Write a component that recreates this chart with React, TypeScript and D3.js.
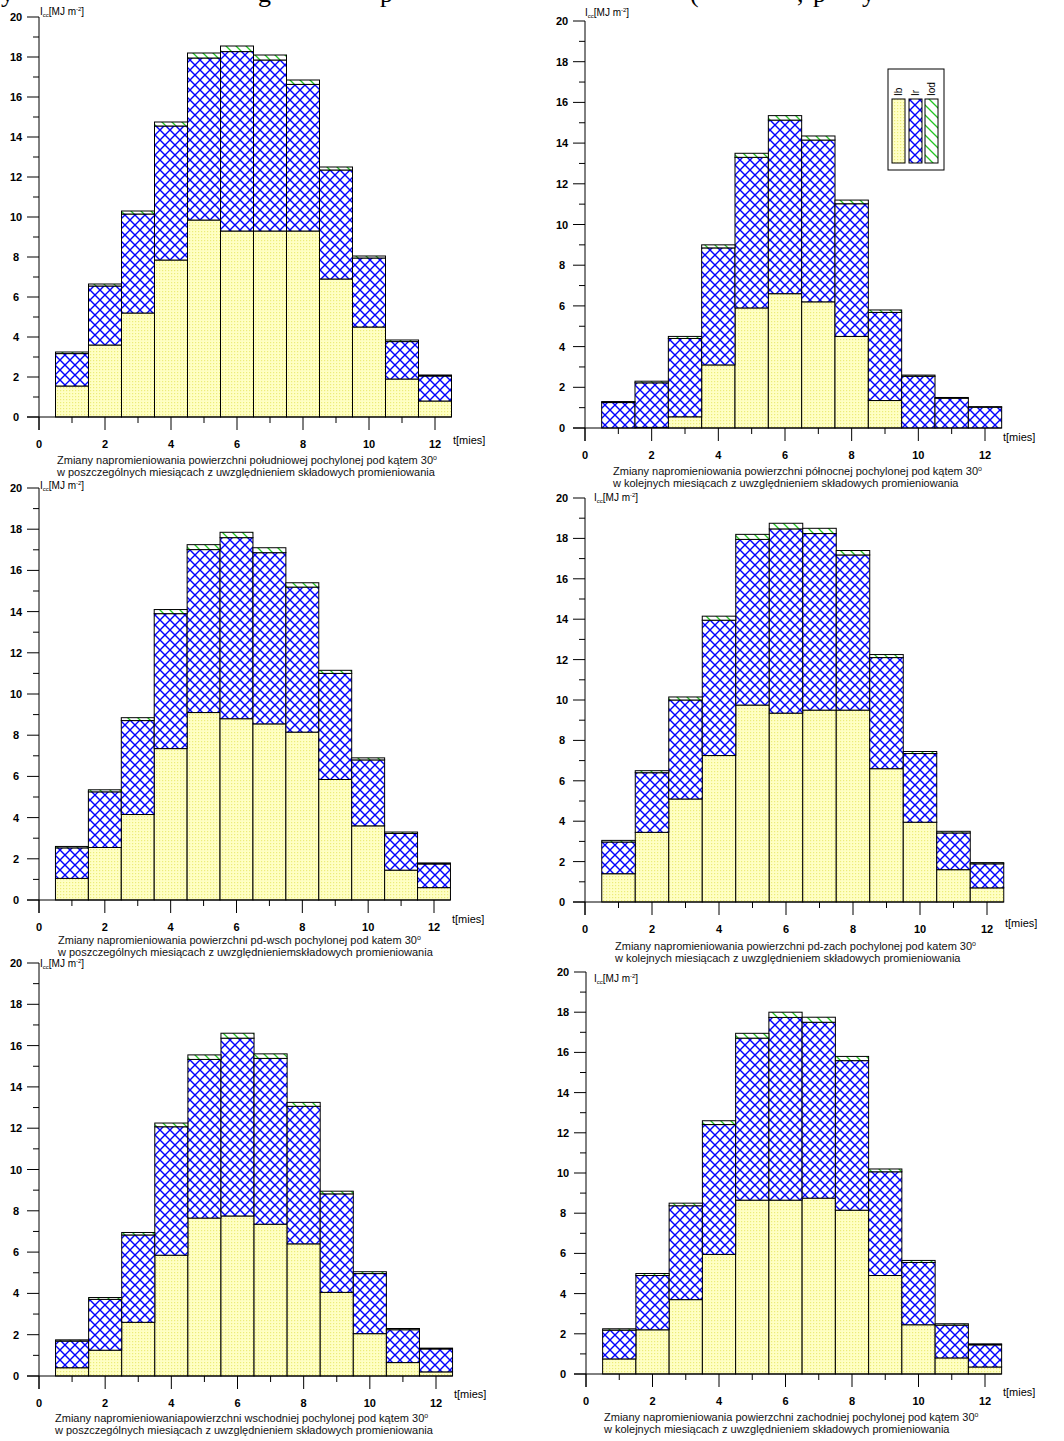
import React from 'react';
import * as d3 from 'd3';

// ---------- data ----------
const months = [1, 2, 3, 4, 5, 6, 7, 8, 9, 10, 11, 12];
const xTickValues = [0, 1, 2, 3, 4, 5, 6, 7, 8, 9, 10, 11, 12];
const yTickValues = d3.range(0, 21);
const seriesKeys = ['ib', 'ir', 'iod'];
const legendLabels = ['Ib', 'Ir', 'Iod'];

// south
const southIb = [1.55, 3.6, 5.2, 7.85, 9.85, 9.3, 9.3, 9.3, 6.9, 4.5, 1.9, 0.8];
const southIr = [1.62, 2.95, 4.95, 6.7, 8.1, 8.97, 8.55, 7.33, 5.45, 3.45, 1.87, 1.25];
const southIod = [0.08, 0.1, 0.15, 0.2, 0.25, 0.28, 0.25, 0.22, 0.15, 0.1, 0.08, 0.05];
// north
const northIb = [0, 0.03, 0.55, 3.1, 5.9, 6.6, 6.2, 4.5, 1.35, 0, 0, 0];
const northIr = [1.25, 2.19, 3.85, 5.75, 7.4, 8.53, 7.95, 6.52, 4.33, 2.54, 1.46, 1.02];
const northIod = [0.05, 0.08, 0.1, 0.15, 0.2, 0.22, 0.2, 0.18, 0.12, 0.06, 0.04, 0.03];
// south-east
const seIb = [1.05, 2.55, 4.15, 7.35, 9.1, 8.8, 8.55, 8.15, 5.85, 3.6, 1.45, 0.6];
const seIr = [1.48, 2.7, 4.56, 6.55, 7.91, 8.79, 8.31, 7.04, 5.15, 3.2, 1.78, 1.15];
const seIod = [0.07, 0.1, 0.14, 0.2, 0.24, 0.26, 0.24, 0.21, 0.15, 0.1, 0.07, 0.05];
// south-west
const swIb = [1.4, 3.45, 5.1, 7.25, 9.75, 9.35, 9.5, 9.5, 6.6, 3.95, 1.6, 0.7];
const swIr = [1.57, 2.95, 4.9, 6.7, 8.2, 9.12, 8.74, 7.68, 5.5, 3.4, 1.82, 1.19];
const swIod = [0.08, 0.1, 0.15, 0.2, 0.25, 0.28, 0.26, 0.22, 0.15, 0.1, 0.08, 0.06];
// east
const eastIb = [0.4, 1.25, 2.6, 5.85, 7.65, 7.75, 7.35, 6.4, 4.05, 2.05, 0.65, 0.2];
const eastIr = [1.29, 2.46, 4.23, 6.22, 7.68, 8.61, 8.03, 6.66, 4.77, 2.91, 1.59, 1.11];
const eastIod = [0.06, 0.09, 0.12, 0.18, 0.22, 0.24, 0.22, 0.19, 0.13, 0.09, 0.06, 0.04];
// west
const westIb = [0.75, 2.2, 3.7, 5.95, 8.65, 8.65, 8.75, 8.15, 4.9, 2.45, 0.8, 0.35];
const westIr = [1.43, 2.7, 4.67, 6.46, 8.06, 9.09, 8.75, 7.44, 5.16, 3.1, 1.63, 1.1];
const westIod = [0.07, 0.1, 0.13, 0.19, 0.24, 0.26, 0.25, 0.21, 0.14, 0.1, 0.07, 0.05];

const captionsSouth = [
  'Zmiany napromieniowania powierzchni południowej pochylonej pod kątem 30',
  'w poszczególnych miesiącach z uwzględnieniem składowych promieniowania',
];
const captionsNorth = [
  'Zmiany napromieniowania powierzchni północnej pochylonej pod kątem 30',
  'w kolejnych miesiącach z uwzględnieniem składowych promieniowania',
];
const captionsSE = [
  'Zmiany napromieniowania powierzchni pd-wsch pochylonej pod katem 30',
  'w poszczególnych miesiącach z uwzględnieniemskładowych promieniowania',
];
const captionsSW = [
  'Zmiany napromieniowania powierzchni pd-zach pochylonej pod katem 30',
  'w kolejnych miesiącach z uwzględnieniem składowych promieniowania',
];
const captionsEast = [
  'Zmiany napromieniowaniapowierzchni wschodniej pochylonej pod kątem 30',
  'w poszczególnych miesiącach z uwzględnieniem składowych promieniowania',
];
const captionsWest = [
  'Zmiany napromieniowania powierzchni zachodniej pochylonej pod kątem 30',
  'w kolejnych miesiącach z uwzględnieniem składowych promieniowania',
];

// cut-off fragments of the page text above the charts
const topFragments = [
  { t: 'y', x: 1 },
  { t: 'g', x: 258 },
  { t: 'p', x: 380 },
  { t: '(', x: 690 },
  { t: ',', x: 797 },
  { t: 'p', x: 813 },
  { t: 'y', x: 862 },
];

// ---------- layout ----------
const W = 1064;
const H = 1441;
const FONT = '"Liberation Sans", Arial, Helvetica, sans-serif';

const panels = [
  { id: 's', ib: southIb, ir: southIr, iod: southIod, cap: captionsSouth,
    x0: 39, x12: 435, y0: 417, y20: 17, capX: 57, capY: 464, tDy: 27, labX: 40, labY: 15, legend: false },
  { id: 'n', ib: northIb, ir: northIr, iod: northIod, cap: captionsNorth,
    x0: 585, x12: 985, y0: 428, y20: 21, capX: 613, capY: 475, tDy: 13, labX: 585, labY: 16, legend: true },
  { id: 'se', ib: seIb, ir: seIr, iod: seIod, cap: captionsSE,
    x0: 39, x12: 434, y0: 900, y20: 488, capX: 58, capY: 944, tDy: 23, labX: 40, labY: 489, legend: false },
  { id: 'sw', ib: swIb, ir: swIr, iod: swIod, cap: captionsSW,
    x0: 585, x12: 987, y0: 902, y20: 498, capX: 615, capY: 950, tDy: 25, labX: 594, labY: 501, legend: false },
  { id: 'e', ib: eastIb, ir: eastIr, iod: eastIod, cap: captionsEast,
    x0: 39, x12: 436, y0: 1376, y20: 963, capX: 55, capY: 1422, tDy: 22, labX: 40, labY: 967, legend: false },
  { id: 'w', ib: westIb, ir: westIr, iod: westIod, cap: captionsWest,
    x0: 586, x12: 985, y0: 1374, y20: 972, capX: 604, capY: 1421, tDy: 22, labX: 594, labY: 982, legend: false },
];

const fills: Record<string, string> = { ib: 'url(#patIb)', ir: 'url(#patIr)', iod: 'url(#patIod)' };

function Panel({ p }: { p: (typeof panels)[number] }) {
  const x = d3.scaleLinear().domain([0, 12]).range([p.x0, p.x12]);
  const y = d3.scaleLinear().domain([0, 20]).range([p.y0, p.y20]);
  const rows = months.map((m, i) => ({ m, ib: p.ib[i], ir: p.ir[i], iod: p.iod[i] }));
  const stack = d3.stack<any>().keys(seriesKeys)(rows);
  const ax = x(0);
  return (
    <g>
      {/* bars */}
      {stack.map((layer) => (
        <g key={layer.key}>
          {layer.map((d, i) => {
            const h = y(d[0]) - y(d[1]);
            if (h <= 0.01) return null;
            const m = rows[i].m;
            return (
              <rect
                key={i}
                x={x(m - 0.5)}
                y={y(d[1])}
                width={x(m + 0.5) - x(m - 0.5)}
                height={h}
                fill={fills[layer.key]}
                stroke="#000"
                strokeWidth={1}
              />
            );
          })}
        </g>
      ))}
      {/* y axis */}
      <line x1={ax} x2={ax} y1={y(20)} y2={p.y0 + 13} stroke="#000" strokeWidth={1} />
      {yTickValues.map((v) => (
        <line key={v} x1={ax - (v % 2 === 0 ? 12 : 6)} x2={ax} y1={y(v)} y2={y(v)} stroke="#000" strokeWidth={1} />
      ))}
      {yTickValues.filter((v) => v % 2 === 0).map((v) => (
        <text key={v} x={ax - 23} y={y(v) + 4} textAnchor="middle" fontSize={11} fontWeight="bold" fontFamily={FONT}>
          {v}
        </text>
      ))}
      {/* x axis */}
      <line x1={ax - 12} x2={x(12.5)} y1={p.y0} y2={p.y0} stroke="#000" strokeWidth={1} />
      {xTickValues.map((t) => (
        <line key={t} x1={x(t)} x2={x(t)} y1={p.y0} y2={p.y0 + (t % 2 === 0 ? 13 : 6)} stroke="#000" strokeWidth={1} />
      ))}
      {xTickValues.filter((t) => t % 2 === 0).map((t) => (
        <text key={t} x={x(t)} y={p.y0 + 31} textAnchor="middle" fontSize={11} fontWeight="bold" fontFamily={FONT}>
          {t}
        </text>
      ))}
      <text x={x(12) + 18} y={p.y0 + p.tDy} fontSize={11} fontFamily={FONT}>t[mies]</text>
      {/* y label */}
      <text x={p.labX} y={p.labY} fontSize={10} fontFamily={FONT}>
        I<tspan fontSize={6} dy={2}>cc</tspan>
        <tspan dy={-2}>[MJ m</tspan>
        <tspan fontSize={6} dy={-4}>-2</tspan>
        <tspan dy={4}>]</tspan>
      </text>
      {/* caption */}
      <text x={p.capX} y={p.capY} fontSize={11} fontFamily={FONT} fill="#111">
        {p.cap[0]}
        <tspan fontSize={7} dy={-4}>o</tspan>
      </text>
      <text x={p.capX} y={p.capY + 12} fontSize={11} fontFamily={FONT} fill="#111">
        {p.cap[1]}
      </text>
      {p.legend && <Legend />}
    </g>
  );
}

function Legend() {
  const bx = 888;
  const by = 69;
  const sw = [892, 909, 925];
  return (
    <g>
      <rect x={bx} y={by} width={56} height={101} fill="#fff" stroke="#000" strokeWidth={1} />
      {seriesKeys.map((k, i) => (
        <g key={k}>
          <rect x={sw[i]} y={99} width={13} height={64} fill={fills[k]} stroke="#000" strokeWidth={1} />
          <text
            transform={`translate(${sw[i] + 10},${96}) rotate(-90)`}
            fontSize={10}
            fontFamily={FONT}
          >
            {legendLabels[i]}
          </text>
        </g>
      ))}
    </g>
  );
}

export default function App() {
  return (
    <svg
      width={W}
      height={H}
      viewBox={`0 0 ${W} ${H}`}
      style={{ position: 'absolute', left: 0, top: 0, background: '#fff' }}
    >
      <defs>
        <pattern id="patIb" patternUnits="userSpaceOnUse" width={3} height={3}>
          <rect width={3} height={3} fill="#ffffc4" />
          <rect x={0} y={0} width={1.2} height={1.2} fill="#ecec7a" />
        </pattern>
        <pattern id="patIr" patternUnits="userSpaceOnUse" width={10} height={10}>
          <rect width={10} height={10} fill="#fff" />
          <path d="M0,0 L10,10 M10,0 L0,10" stroke="#0000ff" strokeWidth={1.4} fill="none" />
        </pattern>
        <pattern id="patIod" patternUnits="userSpaceOnUse" width={10} height={10}>
          <rect width={10} height={10} fill="#fff" />
          <path d="M0,0 L10,10 M-2,8 L2,12 M8,-2 L12,2" stroke="#22c422" strokeWidth={1.3} fill="none" />
        </pattern>
      </defs>
      <rect width={W} height={H} fill="#fff" />
      {topFragments.map((f, i) => (
        <text key={i} x={f.x} y={2} fontSize={26} fontFamily='"Liberation Serif", "Times New Roman", serif'>
          {f.t}
        </text>
      ))}
      {panels.map((p) => (
        <Panel key={p.id} p={p} />
      ))}
    </svg>
  );
}
